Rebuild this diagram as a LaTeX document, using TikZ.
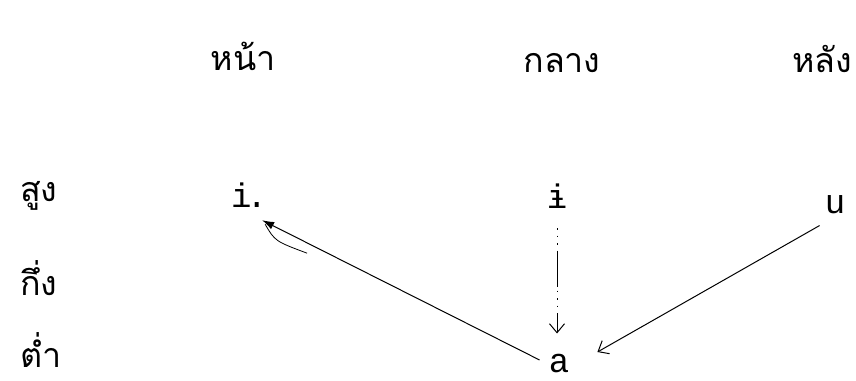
\documentclass[tikz,border=0pt]{standalone}
\usepackage{fontspec}
\newfontfamily\thai[Script=Thai]{Loma}
\setmonofont{Liberation Mono}
\usetikzlibrary{arrows.meta,calc}
\begin{document}
\begin{tikzpicture}[x=1pt,y=-1pt,
  thlabel/.style={font=\thai\fontsize{34}{36}\selectfont, inner sep=0pt, anchor=base},
  vowel/.style={font=\ttfamily\fontsize{34}{36}\selectfont, inner sep=0pt, anchor=base},
  conn/.style={line width=1pt},
  openhead/.style={-{Straight Barb[length=9pt,width=15pt,line width=1pt]}},
  filledhead/.style={-{Latex[length=12pt,width=8pt]}},
]
\useasboundingbox (0,0) rectangle (856,380);
% column headings
\node[thlabel] (front) at (243,70) {หน้า};
\node[thlabel] (central) at (562,72) {กลาง};
\node[thlabel] (back) at (822,72) {หลัง};
% row labels
\node[thlabel, anchor=base west] (high) at (20,201) {สูง};
\node[thlabel, anchor=base west] (mid) at (20,295) {กึ่ง};
\node[thlabel, anchor=base west] (low) at (20,367) {ต่ำ};
% vowels
\node[vowel, anchor=base west] (vi) at (231,207) {i\kern-5pt.};
\node[vowel] (vbar) at (557,208) {ɨ};
\node[vowel] (vu) at (835,213) {u};
\node[vowel] (va) at (559,372) {a};
% connectors
\draw[conn, filledhead]
  ($(va.west)+(-9,-3)$) -- ($(vi.south)+(13,13)$);
\draw[line width=0.8pt] ($(vi.south)+(16,17)$) .. controls ($(vi.south)+(26,34)$) .. ($(vi.south)+(58,46)$);
\draw[conn, openhead, dash pattern=on 1.5pt off 6pt on 1.5pt off 6pt on 1.5pt off 6pt on 36pt off 4pt]
  ($(vbar.south)+(0,20)$) -- ($(va.north)+(-2,-20)$);
\draw[conn, openhead]
  ($(vu.south west)+(-5,12)$) -- ($(va.east)+(28,-11)$);
\end{tikzpicture}
\end{document}
